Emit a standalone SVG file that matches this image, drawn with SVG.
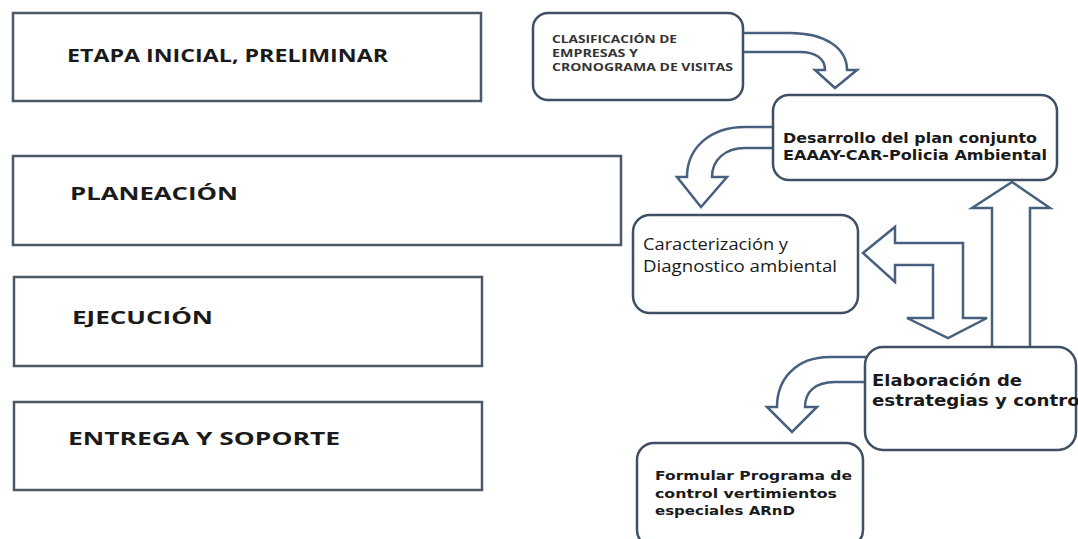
<svg xmlns="http://www.w3.org/2000/svg" width="1078" height="539" viewBox="0 0 1078 539">
<style>
.stage{fill:#fff;stroke:#4a5868;stroke-width:2.5}
.rbox{fill:#fff;stroke:#3f5064;stroke-width:2.5}
.arr{fill:#fff;stroke:#46607e;stroke-width:2.5;stroke-linejoin:miter}
.st{font-family:"Open Sans","Liberation Sans",sans-serif;font-weight:bold;font-size:18px;fill:#1a1a1a}
.sm{font-family:"Open Sans","Liberation Sans",sans-serif;font-weight:bold;font-size:10px;fill:#333}
.vb{font-family:"DejaVu Sans","Liberation Sans",sans-serif;font-weight:bold;font-size:14px;fill:#1a1a1a}
.reg{font-family:"Open Sans","Liberation Sans",sans-serif;font-size:17px;fill:#1a1a1a}
</style>
<rect width="1078" height="539" fill="#fff"/>
<g id="connectors">
<path class="arr" d="M735,33 L790,33 C825,33 847,48 847,70 L857,70 L835,88 L815,70 L825,70 C825,58 815,52 800,52 L735,52 Z"/>
<path class="arr" d="M780,127 L745,127 C710,127 687,148 687,177 L677,177 L701,207 L727,177 L712,177 C712,160 725,148 745,148 L780,148 Z"/>
<path class="arr" d="M863,253 L895,227 L895,243 L963,243 L963,318 L987,318 L948,338 L907,318 L933,318 L933,265 L895,265 L895,282 Z"/>
<path class="arr" d="M1012,182 L1050,208 L1030,208 L1030,350 L992,350 L992,208 L972,208 Z"/>
<path class="arr" d="M872,357 L830,357 C795,357 777,380 777,407 L767,407 L792,432 L817,407 L805,407 C805,392 815,382 835,382 L872,382 Z"/>
</g>
<g id="etapa-inicial">
<rect class="stage" x="13" y="13" width="468" height="88"/>
<text class="st" x="67" y="62" textLength="321" lengthAdjust="spacingAndGlyphs">ETAPA INICIAL, PRELIMINAR</text>
</g>
<g id="planeacion">
<rect class="stage" x="13" y="156" width="608" height="89"/>
<text class="st" x="70" y="200" textLength="168" lengthAdjust="spacingAndGlyphs">PLANEACIÓN</text>
</g>
<g id="ejecucion">
<rect class="stage" x="14" y="277" width="468" height="89"/>
<text class="st" x="72" y="324" textLength="141" lengthAdjust="spacingAndGlyphs">EJECUCIÓN</text>
</g>
<g id="entrega">
<rect class="stage" x="14" y="402" width="468" height="88"/>
<text class="st" x="68" y="445" textLength="272" lengthAdjust="spacingAndGlyphs">ENTREGA Y SOPORTE</text>
</g>
<g id="clasificacion">
<rect class="rbox" x="533" y="13" width="210" height="87" rx="15"/>
<text class="sm" x="552" y="43" textLength="125" lengthAdjust="spacingAndGlyphs">CLASIFICACIÓN DE</text>
<text class="sm" x="552" y="57" textLength="86" lengthAdjust="spacingAndGlyphs">EMPRESAS Y</text>
<text class="sm" x="552" y="71" textLength="181" lengthAdjust="spacingAndGlyphs">CRONOGRAMA DE VISITAS</text>
</g>
<g id="desarrollo">
<rect class="rbox" x="773" y="95" width="284" height="85" rx="16"/>
<text class="vb" x="783" y="143" textLength="254" lengthAdjust="spacingAndGlyphs">Desarrollo del plan conjunto</text>
<text class="vb" x="783" y="160" textLength="264" lengthAdjust="spacingAndGlyphs">EAAAY-CAR-Policia Ambiental</text>
</g>
<g id="caracterizacion">
<rect class="rbox" x="633" y="215" width="225" height="98" rx="17"/>
<text class="reg" x="643" y="250" textLength="145" lengthAdjust="spacingAndGlyphs">Caracterización y</text>
<text class="reg" x="643" y="272" textLength="194" lengthAdjust="spacingAndGlyphs">Diagnostico ambiental</text>
</g>
<g id="elaboracion">
<rect class="rbox" x="865" y="347" width="211" height="103" rx="18"/>
<text class="vb" x="872" y="386" textLength="150" lengthAdjust="spacingAndGlyphs" style="font-size:16px">Elaboración de</text>
<text class="vb" x="872" y="406" textLength="214" lengthAdjust="spacingAndGlyphs" style="font-size:16px">estrategias y control</text>
</g>
<g id="formular">
<rect class="rbox" x="637" y="443" width="226" height="104" rx="17"/>
<text class="vb" x="655" y="480" textLength="197" lengthAdjust="spacingAndGlyphs" style="font-size:13px">Formular Programa de</text>
<text class="vb" x="655" y="498" textLength="182" lengthAdjust="spacingAndGlyphs" style="font-size:13px">control vertimientos</text>
<text class="vb" x="655" y="515" textLength="140" lengthAdjust="spacingAndGlyphs" style="font-size:13px">especiales ARnD</text>
</g>
</svg>
